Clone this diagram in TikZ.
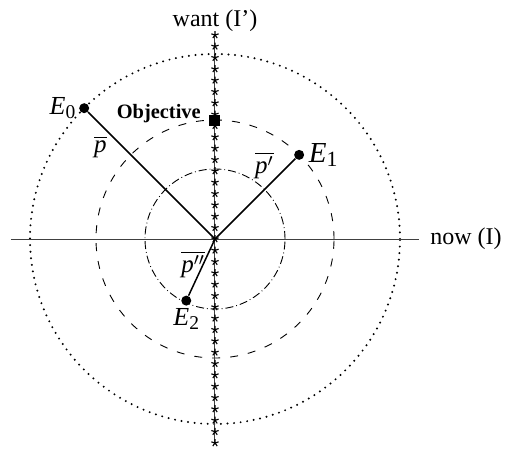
\documentclass[tikz,border=0pt]{standalone}
\usepackage{fontspec}
\setmainfont{Liberation Serif}
\usetikzlibrary{positioning,plotmarks}
\tikzset{
    % Axis lines
    axisline/.style={
        line width=0.5pt,
        draw=black!75
    },
    % Star marks on the want axis
    wantmarks/.style={
        only marks,
        mark=star,
        mark size=1.9pt,
        mark options={line width=0.55pt}
    },
    % Outer (dotted) circle
    outercircle/.style={
        line width=1.1pt,
        dash pattern=on 0pt off 3.3pt,
        line cap=round
    },
    % Middle (dashed) circle
    midcircle/.style={
        line width=0.45pt,
        dash pattern=on 4pt off 5pt
    },
    % Inner (dash-dot) circle
    innercircle/.style={
        line width=0.45pt,
        dash pattern=on 4pt off 1.5pt on 0.4pt off 1.5pt
    },
    % Radius lines
    radline/.style={
        line width=0.75pt
    },
    % State points
    statept/.style={
        circle,
        fill=black,
        inner sep=0pt,
        minimum size=5pt
    },
    % Objective point
    goalpt/.style={
        rectangle,
        fill=black,
        inner sep=0pt,
        minimum size=5.5pt
    },
    % Text styles
    axislabel/.style={font=\fontsize{12}{14}\selectfont, inner sep=1pt},
    ptlabel/.style={font=\fontsize{13}{15}\selectfont, inner sep=1pt},
    plabel/.style={font=\fontsize{12.5}{14}\selectfont, inner sep=0pt},
    goallabel/.style={font=\fontsize{10.2}{12}\selectfont\bfseries, inner sep=1pt}
}
\newcommand{\stname}[1]{\textit{E}\raisebox{-0.35ex}{\scalebox{0.75}{#1}}}
\begin{document}
\begin{tikzpicture}[x=0.5pt,y=0.5pt]
    \useasboundingbox (-215,-211) rectangle (299,239);
    \coordinate (o) at (0,0);
    \coordinate (xl) at (-204,0);
    \coordinate (xr) at (204,0);
    \coordinate (yb) at (0,-204);
    \coordinate (yt) at (0,204);
    % circles
    \draw[outercircle] (o) circle (185);
    \draw[midcircle] (o) circle (119);
    \draw[innercircle] (o) circle (70);
    % axes
    \draw[axisline] (xl) -- (xr);
    \draw[axisline] (yb) -- (yt);
    \draw plot[wantmarks, domain=-18:18, samples=37] (0,{\x*204/18});
    \node[axislabel, above=0.5pt of yt] (want) {want (I')};
    \node[axislabel, right=4.5pt of xr] (now) {now (I)};
    % points
    \node[goalpt] (obj) at (0,119) {};
    \node[goallabel, left=3pt of obj, yshift=3pt] (objlbl) {Objective};
    \node[statept] (e0) at (135:185) {};
    \node[statept] (e1) at (45:119) {};
    \node[statept] (e2) at (245:68) {};
    \node[ptlabel, left=0.5pt of e0] (e0lbl) {\stname{0}};
    \node[ptlabel, right=1pt of e1, font=\fontsize{14.5}{16}\selectfont] (e1lbl) {\stname{1}};
    \node[ptlabel, below=0pt of e2] (e2lbl) {\stname{2}};
    % radius lines
    \draw[radline] (o) -- node[plabel, pos=0.83, below left=1.5pt] {$\overline{\textit{p}}$} (e0);
    \draw[radline] (o) -- node[plabel, pos=0.74, above left] {$\overline{\textit{p}'}$} (e1);
    \draw[radline] (o) -- node[plabel, pos=0.45, left, xshift=1.3pt] {$\overline{\textit{p}''}$} (e2);
\end{tikzpicture}
\end{document}
